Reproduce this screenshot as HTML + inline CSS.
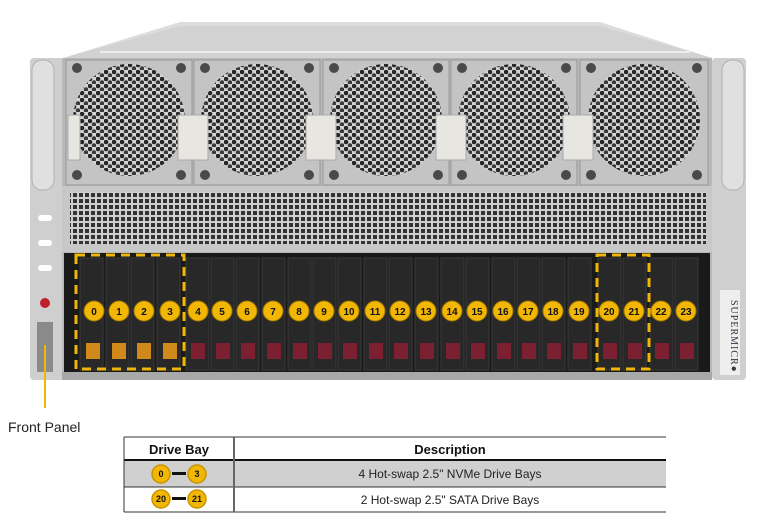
<!DOCTYPE html>
<html><head><style>
body{margin:0;background:#fff;width:758px;height:528px;overflow:hidden;font-family:"Liberation Sans",sans-serif}
svg{position:absolute;left:0;top:0}
</style></head><body>
<svg width="758" height="528" viewBox="0 0 758 528" xmlns="http://www.w3.org/2000/svg" font-family="Liberation Sans, sans-serif">
<defs>
<pattern id="hex" width="8" height="7" patternUnits="userSpaceOnUse">
<rect width="8" height="7" fill="#d4d4d4"/>
<circle cx="2" cy="2" r="2.3" fill="#262626"/><circle cx="6" cy="5.5" r="2.3" fill="#3a3a3a"/>
</pattern>
<pattern id="grid" width="6" height="6" patternUnits="userSpaceOnUse">
<rect width="6" height="6" fill="#d0d0d0"/><rect x="1" y="1" width="4" height="4" fill="#333"/>
</pattern>
</defs>
<polygon points="63,58 180,22 600,22 712,58" fill="#dcdcdc"/>
<polygon points="63,58 180,26 600,26 712,58" fill="#d2d2d2"/>
<line x1="100" y1="52" x2="690" y2="52" stroke="#ececec" stroke-width="2"/>
<rect x="30" y="58" width="34" height="322" rx="4" fill="#cfcfcf"/>
<rect x="32" y="60" width="22" height="130" rx="10" fill="#e0e0e0" stroke="#b0b0b0"/>
<rect x="712" y="58" width="34" height="322" rx="4" fill="#cfcfcf"/>
<rect x="722" y="60" width="22" height="130" rx="10" fill="#e0e0e0" stroke="#b0b0b0"/>
<rect x="38" y="215" width="14" height="6" rx="3" fill="#fff"/><rect x="38" y="240" width="14" height="6" rx="3" fill="#fff"/><rect x="38" y="265" width="14" height="6" rx="3" fill="#fff"/>
<circle cx="45" cy="303" r="5" fill="#c0202a"/>
<rect x="37" y="322" width="16" height="50" fill="#8a8a8a"/>
<rect x="720" y="290" width="20" height="85" fill="#eee"/>
<text x="731" y="300" transform="rotate(90 731 300)" font-size="10" fill="#334" font-family="Liberation Serif,serif" letter-spacing="1">SUPERMICR●</text>
<rect x="62" y="58" width="650" height="322" fill="#b8b8b8"/>
<g>
<rect x="66" y="60" width="126" height="125" fill="#c4c4c4" stroke="#999"/>
<circle cx="129" cy="120" r="56" fill="url(#hex)"/>
<rect x="194" y="60" width="126" height="125" fill="#c4c4c4" stroke="#999"/>
<circle cx="257" cy="120" r="56" fill="url(#hex)"/>
<rect x="323" y="60" width="126" height="125" fill="#c4c4c4" stroke="#999"/>
<circle cx="386" cy="120" r="56" fill="url(#hex)"/>
<rect x="451" y="60" width="126" height="125" fill="#c4c4c4" stroke="#999"/>
<circle cx="514" cy="120" r="56" fill="url(#hex)"/>
<rect x="580" y="60" width="128" height="125" fill="#c4c4c4" stroke="#999"/>
<circle cx="644" cy="120" r="56" fill="url(#hex)"/>
</g>
<g fill="#4a4a4a">
<circle cx="77" cy="68" r="5"/><circle cx="181" cy="68" r="5"/><circle cx="77" cy="175" r="5"/><circle cx="181" cy="175" r="5"/>
<circle cx="205" cy="68" r="5"/><circle cx="309" cy="68" r="5"/><circle cx="205" cy="175" r="5"/><circle cx="309" cy="175" r="5"/>
<circle cx="334" cy="68" r="5"/><circle cx="438" cy="68" r="5"/><circle cx="334" cy="175" r="5"/><circle cx="438" cy="175" r="5"/>
<circle cx="462" cy="68" r="5"/><circle cx="566" cy="68" r="5"/><circle cx="462" cy="175" r="5"/><circle cx="566" cy="175" r="5"/>
<circle cx="591" cy="68" r="5"/><circle cx="697" cy="68" r="5"/><circle cx="591" cy="175" r="5"/><circle cx="697" cy="175" r="5"/>
</g>
<g fill="#e8e6e0" stroke="#aaa">
<rect x="68" y="115" width="12" height="45"/><rect x="178" y="115" width="30" height="45"/><rect x="306" y="115" width="30" height="45"/>
<rect x="436" y="115" width="30" height="45"/><rect x="563" y="115" width="30" height="45"/>
</g>
<rect x="62" y="186" width="650" height="66" fill="#c8c8c8"/>
<rect x="70" y="192" width="636" height="52" fill="url(#grid)"/>
<rect x="64" y="253" width="646" height="120" fill="#1a1a1a"/>
<rect x="62" y="372" width="650" height="8" fill="#a8a8a8"/>
</svg>
<svg width="758" height="528" xmlns="http://www.w3.org/2000/svg" font-family="Liberation Sans, sans-serif" style="position:absolute;left:0;top:0">
<g stroke="#3a3a3a" stroke-width="1">
<rect x="80" y="258" width="23" height="112" fill="#282828"/><rect x="106" y="258" width="23" height="112" fill="#282828"/><rect x="131" y="258" width="23" height="112" fill="#282828"/><rect x="157" y="258" width="23" height="112" fill="#282828"/>
<rect x="186" y="258" width="23" height="112" fill="#282828"/><rect x="211" y="258" width="23" height="112" fill="#282828"/><rect x="236" y="258" width="23" height="112" fill="#282828"/><rect x="262" y="258" width="23" height="112" fill="#282828"/>
<rect x="288" y="258" width="23" height="112" fill="#282828"/><rect x="313" y="258" width="23" height="112" fill="#282828"/><rect x="338" y="258" width="23" height="112" fill="#282828"/><rect x="364" y="258" width="23" height="112" fill="#282828"/>
<rect x="389" y="258" width="23" height="112" fill="#282828"/><rect x="415" y="258" width="23" height="112" fill="#282828"/><rect x="441" y="258" width="23" height="112" fill="#282828"/><rect x="466" y="258" width="23" height="112" fill="#282828"/>
<rect x="492" y="258" width="23" height="112" fill="#282828"/><rect x="517" y="258" width="23" height="112" fill="#282828"/><rect x="542" y="258" width="23" height="112" fill="#282828"/><rect x="568" y="258" width="23" height="112" fill="#282828"/>
<rect x="598" y="258" width="23" height="112" fill="#282828"/><rect x="623" y="258" width="23" height="112" fill="#282828"/><rect x="650" y="258" width="23" height="112" fill="#282828"/><rect x="675" y="258" width="23" height="112" fill="#282828"/>
</g>
<g fill="#d08a1c">
<rect x="86" y="343" width="14" height="16"/><rect x="112" y="343" width="14" height="16"/><rect x="137" y="343" width="14" height="16"/><rect x="163" y="343" width="14" height="16"/>
</g>
<g fill="#7a2030">
<rect x="191" y="343" width="14" height="16"/><rect x="216" y="343" width="14" height="16"/><rect x="241" y="343" width="14" height="16"/><rect x="267" y="343" width="14" height="16"/>
<rect x="293" y="343" width="14" height="16"/><rect x="318" y="343" width="14" height="16"/><rect x="343" y="343" width="14" height="16"/><rect x="369" y="343" width="14" height="16"/>
<rect x="394" y="343" width="14" height="16"/><rect x="420" y="343" width="14" height="16"/><rect x="446" y="343" width="14" height="16"/><rect x="471" y="343" width="14" height="16"/>
<rect x="497" y="343" width="14" height="16"/><rect x="522" y="343" width="14" height="16"/><rect x="547" y="343" width="14" height="16"/><rect x="573" y="343" width="14" height="16"/>
<rect x="603" y="343" width="14" height="16"/><rect x="628" y="343" width="14" height="16"/><rect x="655" y="343" width="14" height="16"/><rect x="680" y="343" width="14" height="16"/>
</g>
<g fill="#f2b705" stroke="#a07800" stroke-width="1">
<circle cx="94" cy="311" r="10"/><circle cx="119" cy="311" r="10"/><circle cx="144" cy="311" r="10"/><circle cx="170" cy="311" r="10"/>
<circle cx="198" cy="311" r="10"/><circle cx="222" cy="311" r="10"/><circle cx="247" cy="311" r="10"/><circle cx="273" cy="311" r="10"/>
<circle cx="299" cy="311" r="10"/><circle cx="324" cy="311" r="10"/><circle cx="349" cy="311" r="10"/><circle cx="375" cy="311" r="10"/>
<circle cx="400" cy="311" r="10"/><circle cx="426" cy="311" r="10"/><circle cx="452" cy="311" r="10"/><circle cx="477" cy="311" r="10"/>
<circle cx="503" cy="311" r="10"/><circle cx="528" cy="311" r="10"/><circle cx="553" cy="311" r="10"/><circle cx="579" cy="311" r="10"/>
<circle cx="609" cy="311" r="10"/><circle cx="634" cy="311" r="10"/><circle cx="661" cy="311" r="10"/><circle cx="686" cy="311" r="10"/>
</g>
<g font-size="10" font-weight="bold" text-anchor="middle" fill="#111">
<text x="94" y="315">0</text><text x="119" y="315">1</text><text x="144" y="315">2</text><text x="170" y="315">3</text>
<text x="198" y="315">4</text><text x="222" y="315">5</text><text x="247" y="315">6</text><text x="273" y="315">7</text>
<text x="299" y="315">8</text><text x="324" y="315">9</text><text x="349" y="315">10</text><text x="375" y="315">11</text>
<text x="400" y="315">12</text><text x="426" y="315">13</text><text x="452" y="315">14</text><text x="477" y="315">15</text>
<text x="503" y="315">16</text><text x="528" y="315">17</text><text x="553" y="315">18</text><text x="579" y="315">19</text>
<text x="609" y="315">20</text><text x="634" y="315">21</text><text x="661" y="315">22</text><text x="686" y="315">23</text>
</g>
<g fill="none" stroke="#f2b705" stroke-width="3" stroke-dasharray="9,6">
<rect x="76" y="255" width="108" height="114"/>
<rect x="597" y="255" width="52" height="114"/>
</g>
<line x1="45" y1="345" x2="45" y2="408" stroke="#f2b705" stroke-width="2"/>
<text x="8" y="432" font-size="14" fill="#222">Front Panel</text>
<rect x="124" y="461" width="542" height="26" fill="#d0d0d0"/>
<line x1="124" y1="437" x2="666" y2="437" stroke="#333" stroke-width="1"/>
<line x1="124" y1="460" x2="666" y2="460" stroke="#111" stroke-width="2"/>
<line x1="124" y1="487" x2="666" y2="487" stroke="#333" stroke-width="1"/>
<line x1="124" y1="512" x2="666" y2="512" stroke="#333" stroke-width="1"/>
<line x1="124" y1="437" x2="124" y2="512" stroke="#333"/>
<line x1="234" y1="437" x2="234" y2="512" stroke="#666" stroke-width="2"/>
<text x="179" y="454" font-size="13" font-weight="bold" text-anchor="middle" fill="#111">Drive Bay</text>
<text x="450" y="454" font-size="13" font-weight="bold" text-anchor="middle" fill="#111">Description</text>
<text x="450" y="478" font-size="12" text-anchor="middle" fill="#222">4 Hot-swap 2.5" NVMe Drive Bays</text>
<text x="450" y="504" font-size="12" text-anchor="middle" fill="#222">2 Hot-swap 2.5" SATA Drive Bays</text>
<g fill="#f2b705" stroke="#c89400" stroke-width="1.5">
<circle cx="161" cy="474" r="9"/><circle cx="197" cy="474" r="9"/><circle cx="161" cy="499" r="9"/><circle cx="197" cy="499" r="9"/>
</g>
<rect x="172" y="472" width="14" height="3" fill="#111"/><rect x="172" y="497" width="14" height="3" fill="#111"/>
<g font-size="9" font-weight="bold" text-anchor="middle" fill="#111">
<text x="161" y="477">0</text><text x="197" y="477">3</text><text x="161" y="502">20</text><text x="197" y="502">21</text>
</g>
</svg>
</body></html>
